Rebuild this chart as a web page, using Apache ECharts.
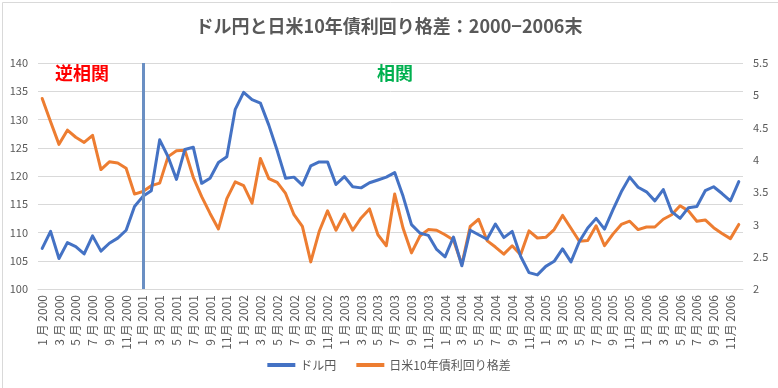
<!DOCTYPE html>
<html><head><meta charset="utf-8">
<script src="https://cdn.jsdelivr.net/npm/echarts@6/dist/echarts.min.js"></script>
<style>html,body{margin:0;padding:0;background:#fff}#c{width:778px;height:388px}</style>
</head><body><div id="c"></div>
<script>
const years = [2000, 2001, 2002, 2003, 2004, 2005, 2006];
const monthNames = ['1 月','2 月','3 月','4 月','5 月','6 月','7 月','8 月','9 月','10月','11月','12月'];
const usdJpy = [
107.2,110.2,105.4,108.2,107.5,106.2,109.4,106.7,108.1,109.0,110.4,114.6,
116.4,117.4,126.4,123.4,119.4,124.7,125.1,118.7,119.6,122.4,123.4,131.8,
134.8,133.5,132.9,129.0,124.5,119.6,119.8,118.4,121.8,122.5,122.5,118.5,
119.9,118.1,117.9,118.8,119.3,119.8,120.6,116.4,111.4,109.9,109.5,107.0,
105.7,109.2,104.1,110.4,109.6,108.8,111.5,109.1,110.2,105.8,102.9,102.5,
104.0,104.9,107.1,104.8,108.4,110.8,112.5,110.6,114.0,117.2,119.8,118.0,
117.2,115.6,117.6,113.7,112.5,114.4,114.6,117.4,118.1,116.9,115.6,119.0];
const yieldSpread = [
4.95,4.59,4.24,4.46,4.35,4.27,4.38,3.85,3.97,3.95,3.87,3.47,
3.51,3.60,3.64,4.05,4.14,4.15,3.73,3.43,3.17,2.93,3.40,3.66,
3.60,3.33,4.02,3.71,3.65,3.48,3.15,2.97,2.42,2.89,3.21,2.91,
3.16,2.91,3.10,3.24,2.84,2.67,3.47,2.94,2.56,2.82,2.92,2.91,
2.84,2.76,2.38,2.97,3.08,2.75,2.65,2.54,2.67,2.53,2.90,2.79,
2.80,2.92,3.14,2.94,2.74,2.75,2.98,2.67,2.85,3.00,3.05,2.92,
2.96,2.96,3.08,3.15,3.29,3.21,3.05,3.07,2.95,2.86,2.78,3.00];
const seriesNames = ['ドル円', '日米10年債利回り格差'];
const leftTicks = {min: 100, max: 140, interval: 5};
const rightTicks = {min: 2, max: 5.5, interval: 0.5};
const dividerCategory = '1 月 2001';

const categories = [];
years.forEach(y => monthNames.forEach(m => categories.push(m + ' ' + y)));

const font = '"Noto Sans CJK JP", "Noto Sans", sans-serif';
const chart = echarts.init(document.getElementById('c'), null, {renderer: 'canvas'});
chart.setOption({
  animation: false,
  backgroundColor: '#fff',
  textStyle: {fontFamily: font},
  title: {
    text: 'ドル円と日米10年債利回り格差：2000−2006末',
    left: 'center', top: 12,
    textStyle: {fontSize: 18, fontWeight: 'bold', color: '#595959', fontFamily: font}
  },
  grid: {left: 38, right: 35, top: 63, bottom: 99},
  legend: {
    bottom: 12, left: 'center',
    itemWidth: 28, itemHeight: 4, itemGap: 20,
    textStyle: {color: '#595959', fontSize: 12, fontFamily: font},
    data: [{name: seriesNames[0], icon: 'rect'}, {name: seriesNames[1], icon: 'rect'}]
  },
  xAxis: {
    type: 'category', data: categories, boundaryGap: true,
    axisLine: {show: true, lineStyle: {color: '#D9D9D9'}},
    axisTick: {show: false},
    axisLabel: {rotate: 90, interval: 1, color: '#595959', fontSize: 12, margin: 6, fontFamily: font}
  },
  yAxis: [{
    type: 'value', min: leftTicks.min, max: leftTicks.max, interval: leftTicks.interval,
    axisLine: {show: false}, axisTick: {show: false},
    axisLabel: {color: '#595959', fontSize: 11, margin: 10, fontFamily: font},
    splitLine: {lineStyle: {color: '#D9D9D9', width: 1}}
  }, {
    type: 'value', min: rightTicks.min, max: rightTicks.max, interval: rightTicks.interval,
    axisLine: {show: false}, axisTick: {show: false},
    axisLabel: {color: '#595959', fontSize: 11, margin: 10, fontFamily: font},
    splitLine: {show: false}
  }],
  series: [{
    name: seriesNames[0], type: 'line', yAxisIndex: 0, data: usdJpy,
    showSymbol: false, symbol: 'none', z: 3,
    itemStyle: {color: '#4472C4'},
    lineStyle: {color: '#4472C4', width: 3, join: 'round', cap: 'round'},
    markLine: {
      silent: true, symbol: 'none', label: {show: false},
      lineStyle: {color: '#6A8FC3', width: 3, type: 'solid'},
      data: [{xAxis: dividerCategory}]
    }
  }, {
    name: seriesNames[1], type: 'line', yAxisIndex: 1, data: yieldSpread,
    showSymbol: false, symbol: 'none', z: 2,
    itemStyle: {color: '#ED7D31'},
    lineStyle: {color: '#ED7D31', width: 3, join: 'round', cap: 'round'}
  }],
  graphic: [
    {type: 'rect', left: 0, top: 0, shape: {width: 777, height: 387},
     style: {fill: 'none', stroke: '#D9D9D9', lineWidth: 1}, silent: true, z: -1},
    {type: 'text', left: 55, top: 64,
     style: {text: '逆相関', fill: '#FF0000', font: 'bold 18px ' + font}},
    {type: 'text', left: 377, top: 64,
     style: {text: '相関', fill: '#00B050', font: 'bold 18px ' + font}}
  ]
});
</script>
</body></html>
